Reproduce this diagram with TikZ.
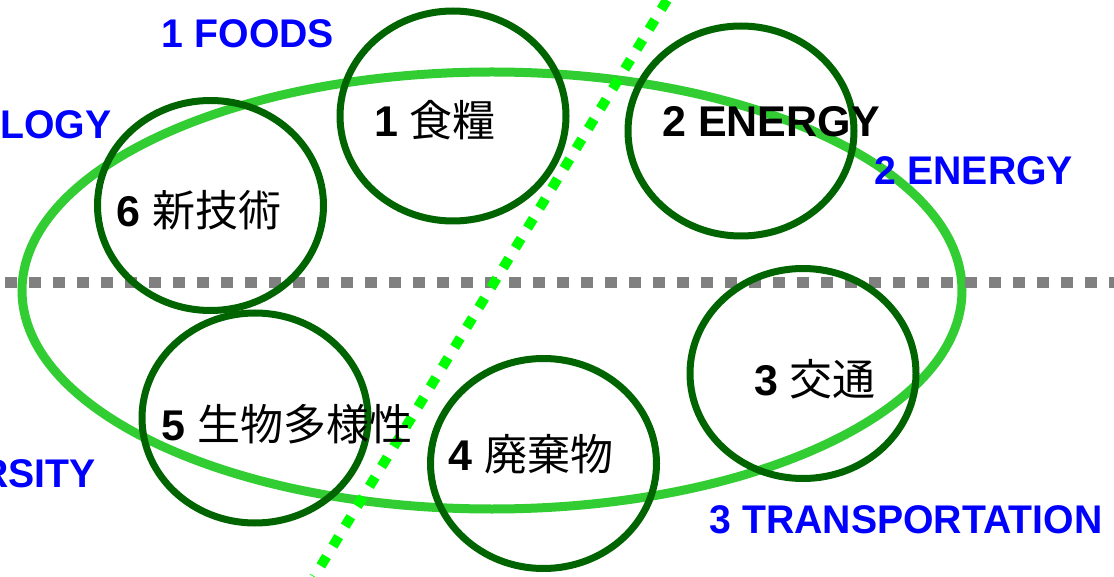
\documentclass[tikz,border=0pt]{standalone}
\usepackage{fontspec}
\setmainfont{Liberation Sans}
\newfontfamily\cjk{Noto Sans CJK JP}
\newfontfamily\bluefont[FakeStretch=0.98]{Liberation Sans}
\usetikzlibrary{shapes.geometric}
\definecolor{bigc}{RGB}{50,205,50}
\definecolor{darkc}{RGB}{0,100,0}
\definecolor{dotc}{RGB}{0,255,0}
\definecolor{grayc}{RGB}{128,128,128}
\definecolor{bluec}{RGB}{0,0,255}
\tikzset{
  bub/.style={ellipse, draw=darkc, line width=7pt, minimum width=226pt, minimum height=210pt, inner sep=0pt},
  bigell/.style={ellipse, draw=bigc, line width=9pt, minimum width=940pt, minimum height=437pt, inner sep=0pt},
  lab/.style={anchor=base, inner sep=0pt, text=black, font=\fontsize{43}{50}\selectfont\bfseries},
  blab/.style={anchor=base, inner sep=0pt, text=bluec, font=\fontsize{40}{48}\selectfont\bluefont\bfseries},
  grayline/.style={draw=grayc, line width=11pt, dash pattern=on 12pt off 12pt},
  dotline/.style={draw=dotc, line width=10pt, dash pattern=on 11pt off 12.3pt}
}
\begin{document}
\begin{tikzpicture}[x=1pt,y=-1pt]
\useasboundingbox (0,0) rectangle (1114,577);
\clip (0,0) rectangle (1114,577);
\fill[white] (0,0) rectangle (1114,577);
% big ellipse
\node[bigell] (big) at (492,290.5) {};
% dotted lines
\coordinate (gl) at (5,282.5);
\coordinate (gr) at (1114,282.5);
\draw[grayline] (gl) -- (gr);
\coordinate (dt) at (667,0);
\coordinate (db) at (314,577);
\draw[dotline] (dt) -- (db);
% circles
\node[bub] (c1) at (453,116) {};
\node[bub] (c2) at (741,131) {};
\node[bub] (c3) at (803,373.5) {};
\node[bub] (c4) at (543.5,463.5) {};
\node[bub] (c5) at (255,418) {};
\node[bub] (c6) at (210.5,205.5) {};
% black labels
\node[lab] (t1) at (435,137) {1 {\cjk\mdseries 食糧}};
\node[lab] (t2) at (771,137) {2 ENERGY};
\node[lab] (t3) at (815,395) {3 {\cjk\mdseries 交通}};
\node[lab] (t4) at (531,470) {4 {\cjk\mdseries 廃棄物}};
\node[lab] (t5) at (287,440) {5 {\cjk\mdseries 生物多様性}};
\node[lab] (t6) at (199,227) {6 {\cjk\mdseries 新技術}};
% blue labels
\node[blab] (b1) at (248,48) {1 FOODS};
\node[blab, anchor=base west] (b6) at (0,139) {LOGY};
\node[blab] (b2) at (974,185) {2 ENERGY};
\node[blab, anchor=base east] (b5) at (96,487) {RSITY};
\node[blab] (b3) at (906,533) {3 TRANSPORTATION};
\end{tikzpicture}
\end{document}
